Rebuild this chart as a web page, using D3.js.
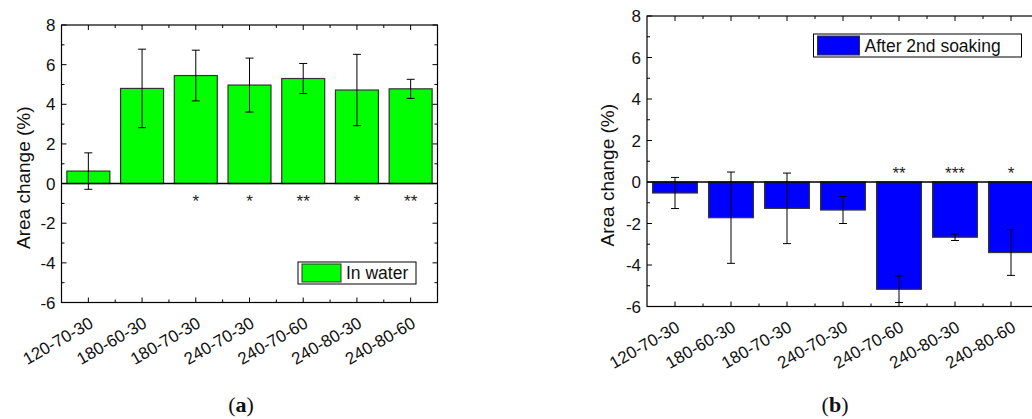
<!DOCTYPE html>
<html>
<head>
<meta charset="utf-8">
<script src="https://cdn.jsdelivr.net/npm/d3@7"></script>
<style>
  body { margin: 0; background: #fff; }
  svg { font-family: "Liberation Sans", Arial, sans-serif; }
</style>
</head>
<body>
<script>
// categories shared by both panels
var categories = ["120-70-30", "180-60-30", "180-70-30", "240-70-30", "240-70-60", "240-80-30", "240-80-60"];

// panel (a): in water
var waterMean = [0.63, 4.80, 5.45, 4.97, 5.30, 4.72, 4.78];
var waterErr = [0.92, 1.98, 1.28, 1.36, 0.76, 1.80, 0.48];
var waterStars = ["", "", "*", "*", "**", "*", "**"];

// panel (b): after 2nd soaking
var soakMean = [-0.53, -1.72, -1.27, -1.35, -5.17, -2.66, -3.40];
var soakErr = [0.75, 2.20, 1.70, 0.65, 0.64, 0.16, 1.10];
var soakStars = ["", "", "", "", "**", "***", "*"];

var yTicks = [-6, -4, -2, 0, 2, 4, 6, 8];

var svg = d3.select("body").append("svg")
  .attr("width", 1032)
  .attr("height", 419);

function drawPanel(p) {
  var g = svg.append("g");

  var x = d3.scaleBand().domain(categories).range([p.left, p.right]).padding(0);
  var y = d3.scaleLinear().domain([-6, 8]).range([p.bottom, p.top]);
  var bw = x.bandwidth() * 0.8;
  var cx = d => x(d) + x.bandwidth() / 2;

  var rows = categories.map(function(c, i) {
    return { cat: c, v: p.mean[i], e: p.err[i], s: p.stars[i] };
  });

  // bars
  g.selectAll("rect.bar").data(rows).enter().append("rect")
    .attr("class", "bar")
    .attr("x", d => x(d.cat) + (x.bandwidth() - bw) / 2)
    .attr("width", bw)
    .attr("y", d => y(Math.max(0, d.v)))
    .attr("height", d => Math.abs(y(d.v) - y(0)))
    .attr("fill", p.color)
    .attr("stroke", "#333")
    .attr("stroke-width", 1.2);

  // zero line
  g.append("line")
    .attr("x1", p.left).attr("x2", p.right)
    .attr("y1", y(0)).attr("y2", y(0))
    .attr("stroke", "#000").attr("stroke-width", 1.5);

  // error bars
  var eb = g.selectAll("g.err").data(rows).enter().append("g")
    .attr("stroke", "#000").attr("stroke-width", 1);
  eb.append("line")
    .attr("x1", d => cx(d.cat)).attr("x2", d => cx(d.cat))
    .attr("y1", d => y(d.v + d.e)).attr("y2", d => y(d.v - d.e));
  [1, -1].forEach(function(sg) {
    eb.append("line")
      .attr("x1", d => cx(d.cat) - 4).attr("x2", d => cx(d.cat) + 4)
      .attr("y1", d => y(d.v + sg * d.e)).attr("y2", d => y(d.v + sg * d.e));
  });

  // significance stars
  g.selectAll("text.star").data(rows).enter().append("text")
    .attr("x", d => cx(d.cat))
    .attr("y", y(0) + p.starDy)
    .attr("text-anchor", "middle")
    .attr("font-size", 17)
    .attr("fill", "#222")
    .text(d => d.s);

  // frame
  g.append("rect")
    .attr("x", p.left).attr("y", p.top)
    .attr("width", p.right - p.left).attr("height", p.bottom - p.top)
    .attr("fill", "none").attr("stroke", "#000").attr("stroke-width", 1.2);

  // y ticks (inward), majors and minors on both sides
  var minorY = d3.range(-5, 8, 2);
  [p.left, p.right].forEach(function(xx, k) {
    var dir = k === 0 ? 1 : -1;
    g.selectAll(null).data(yTicks).enter().append("line")
      .attr("x1", xx).attr("x2", xx + dir * 5)
      .attr("y1", d => y(d)).attr("y2", d => y(d))
      .attr("stroke", "#000");
    g.selectAll(null).data(minorY).enter().append("line")
      .attr("x1", xx).attr("x2", xx + dir * 3)
      .attr("y1", d => y(d)).attr("y2", d => y(d))
      .attr("stroke", "#000");
  });

  // x ticks (inward), majors at categories, minors at band edges
  var edges = categories.slice(1).map(c => x(c));
  [p.bottom, p.top].forEach(function(yy, k) {
    var dir = k === 0 ? -1 : 1;
    g.selectAll(null).data(categories).enter().append("line")
      .attr("x1", cx).attr("x2", cx)
      .attr("y1", yy).attr("y2", yy + dir * 5)
      .attr("stroke", "#000");
    g.selectAll(null).data(edges).enter().append("line")
      .attr("x1", d => d).attr("x2", d => d)
      .attr("y1", yy).attr("y2", yy + dir * 3)
      .attr("stroke", "#000");
  });

  // y tick labels
  g.selectAll(null).data(yTicks).enter().append("text")
    .attr("x", p.left - 6)
    .attr("y", d => y(d))
    .attr("dy", "0.36em")
    .attr("text-anchor", "end")
    .attr("font-size", 17)
    .attr("fill", "#111")
    .text(d => d);

  // x tick labels, rotated
  g.selectAll(null).data(categories).enter().append("text")
    .attr("transform", d => "translate(" + (cx(d) + 6) + "," + (p.bottom + 24) + ") rotate(-30)")
    .attr("text-anchor", "end")
    .attr("font-size", 17)
    .attr("fill", "#111")
    .text(d => d);

  // y axis title
  g.append("text")
    .attr("transform", "translate(" + p.titleX + "," + ((p.top + p.bottom) / 2 + 14) + ") rotate(-90)")
    .attr("text-anchor", "middle")
    .attr("dy", "0.35em")
    .attr("font-size", 19)
    .attr("fill", "#111")
    .text("Area change (%)");

  // legend
  var L = p.legend;
  g.append("rect")
    .attr("x", L.x).attr("y", L.y).attr("width", L.w).attr("height", L.h)
    .attr("fill", "#fff").attr("stroke", "#000").attr("stroke-width", 1);
  g.append("rect")
    .attr("x", L.x + 4).attr("y", L.y + 2).attr("width", L.sw).attr("height", L.h - 4)
    .attr("fill", p.color).attr("stroke", "#333").attr("stroke-width", 1);
  g.append("text")
    .attr("x", L.x + L.sw + 9).attr("y", L.y + L.h / 2)
    .attr("dy", "0.36em")
    .attr("font-size", 17.5)
    .attr("fill", "#111")
    .text(p.label);

  // caption
  var cap = svg.append("text")
    .attr("x", p.capX).attr("y", 412)
    .attr("text-anchor", "middle")
    .attr("font-family", "'Liberation Serif', 'Times New Roman', serif")
    .attr("font-size", 22)
    .attr("fill", "#111");
  cap.append("tspan").text("(");
  cap.append("tspan").attr("font-weight", "bold").text(p.cap);
  cap.append("tspan").text(")");
}

drawPanel({
  left: 61.5, right: 437.5, top: 25, bottom: 302.5,
  mean: waterMean, err: waterErr, stars: waterStars,
  color: "#00ff00", label: "In water", starDy: 23, cap: "a",
  titleX: 23, capX: 241,
  legend: { x: 298, y: 262, w: 118, h: 22, sw: 39 }
});

drawPanel({
  left: 647, right: 1039, top: 16, bottom: 306.5,
  mean: soakMean, err: soakErr, stars: soakStars,
  color: "#0000ff", label: "After 2nd soaking", starDy: -3, cap: "b",
  titleX: 607, capX: 835,
  legend: { x: 813.5, y: 34, w: 208, h: 23, sw: 42 }
});
</script>
</body>
</html>
